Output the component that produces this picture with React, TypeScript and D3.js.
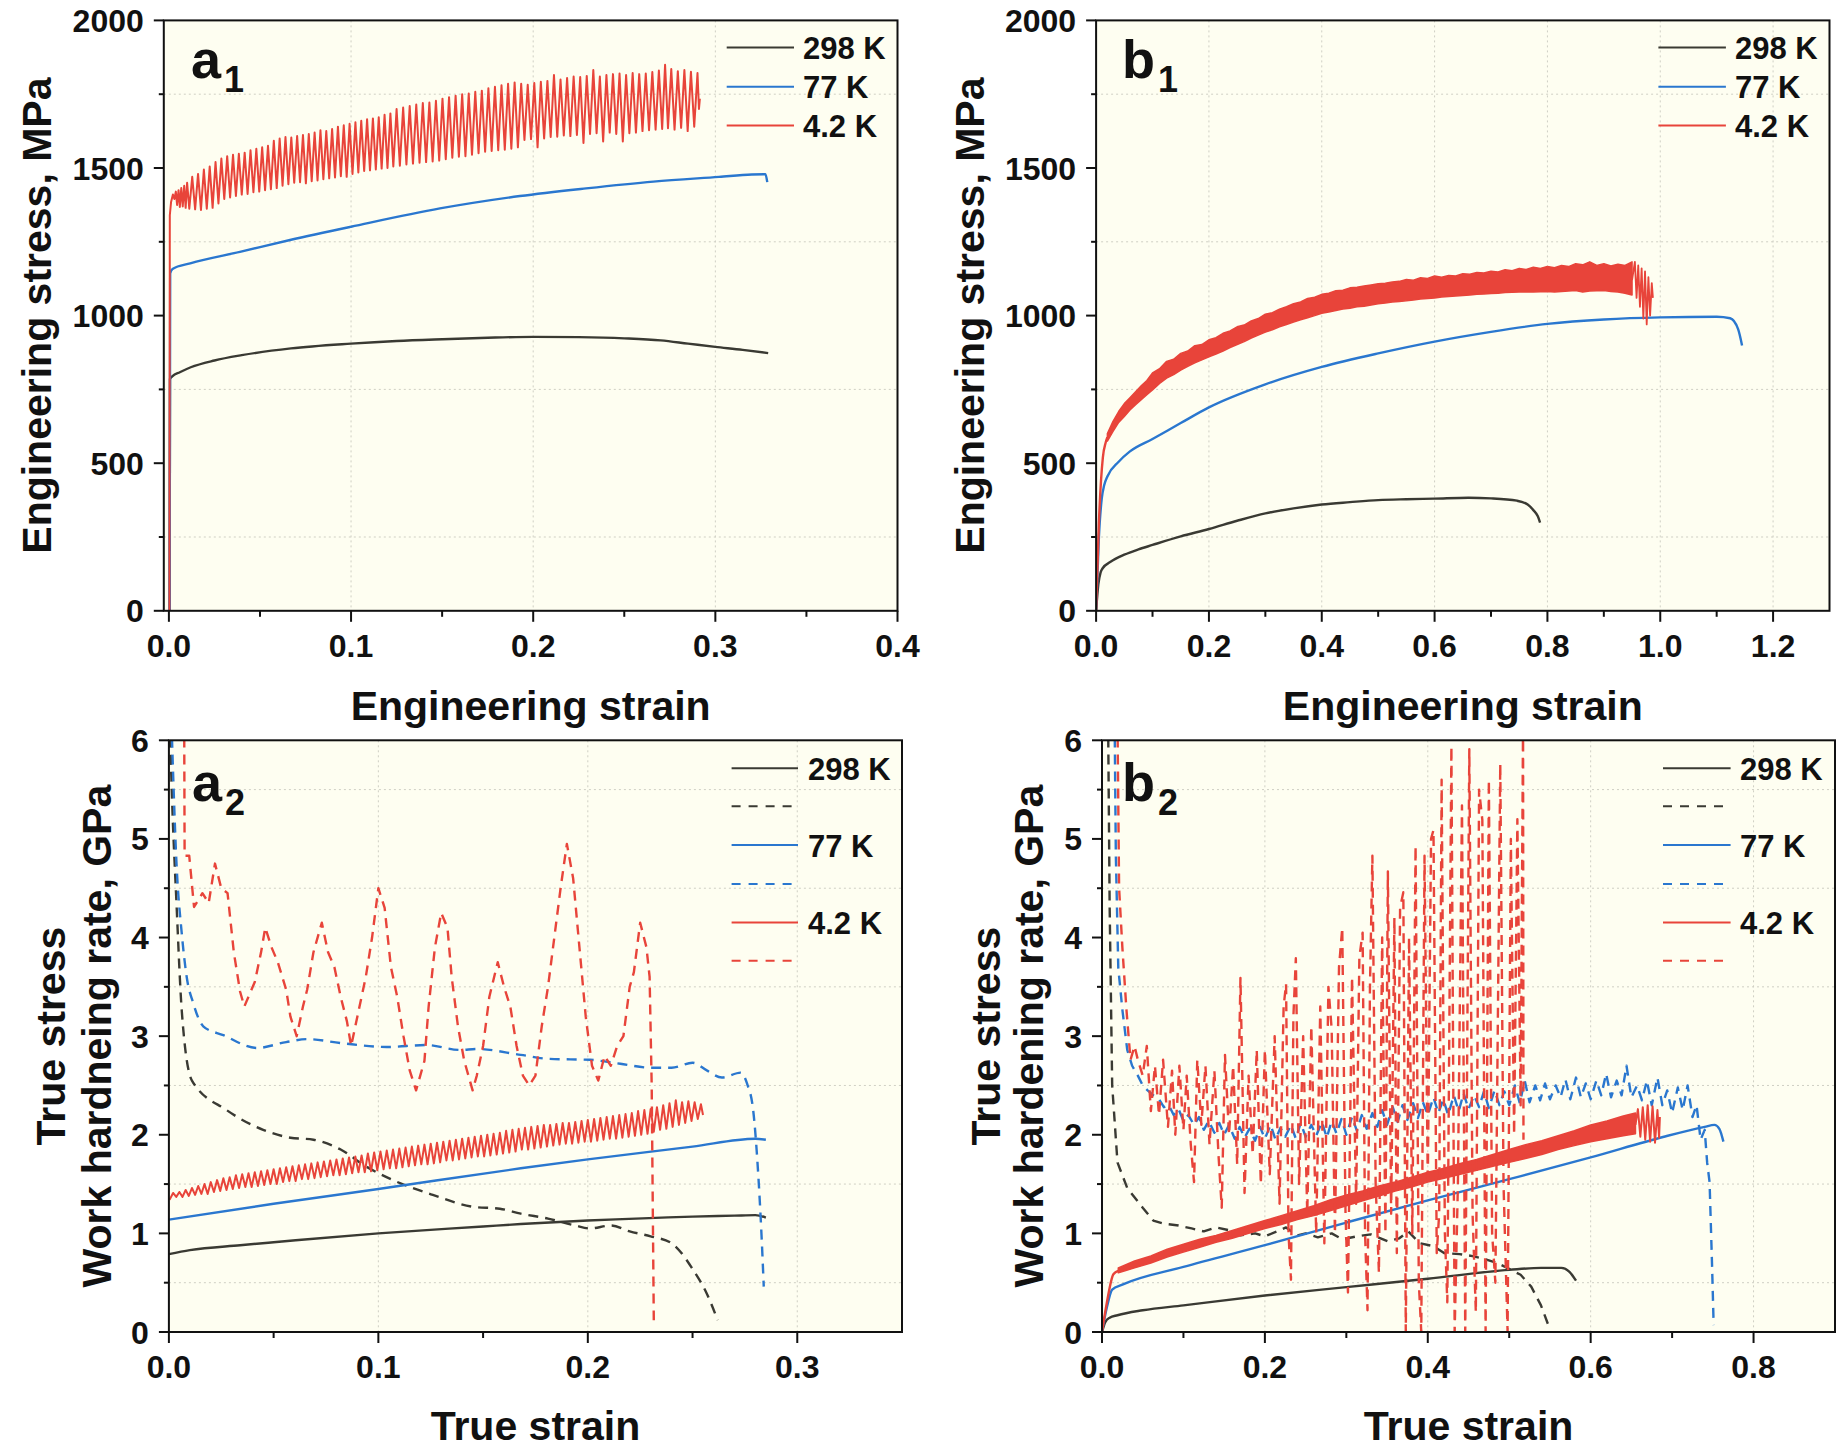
import { useEffect, useRef } from 'react'
import * as d3 from 'd3'

type Pt = [number, number]
type BandPt = [number, number, number]

const W = 1846
const H = 1452
const FONT = '"Liberation Sans", Arial, Helvetica, sans-serif'
const BLACK = '#3a3a33'
const BLUE = '#2a77cf'
const RED = '#e8443a'
const PLOT_BG = '#fefef1'
const GRID = '#cfcfc4'

// ---- tick values ----
const A1_X_TICKS = [0, 0.1, 0.2, 0.3, 0.4]
const A1_X_MINOR = [0.05, 0.15, 0.25, 0.35]
const B1_X_TICKS = [0, 0.2, 0.4, 0.6, 0.8, 1.0, 1.2]
const B1_X_MINOR = [0.1, 0.3, 0.5, 0.7, 0.9, 1.1]
const A2_X_TICKS = [0, 0.1, 0.2, 0.3]
const A2_X_MINOR = [0.05, 0.15, 0.25]
const B2_X_TICKS = [0, 0.2, 0.4, 0.6, 0.8]
const B2_X_MINOR = [0.1, 0.3, 0.5, 0.7]
const STRESS_TICKS = [0, 500, 1000, 1500, 2000]
const STRESS_MINOR = [250, 750, 1250, 1750]
const RATE_TICKS = [0, 1, 2, 3, 4, 5, 6]
const RATE_MINOR = [0.5, 1.5, 2.5, 3.5, 4.5, 5.5]

const TEMPS = ['298 K', '77 K', '4.2 K']

// ---- a1: engineering stress-strain ----
const A1_298: Pt[] = [[0.0004, 0], [0.0006, 785], [0.002, 795], [0.006, 808], [0.012, 825], [0.025, 848], [0.04, 866], [0.067, 889], [0.1, 905], [0.125, 914], [0.15, 920], [0.175, 925], [0.2, 928], [0.225, 927], [0.25, 923], [0.27, 916], [0.285, 905], [0.3, 894], [0.315, 884], [0.329, 873]]
const A1_77: Pt[] = [[0.0004, 0], [0.0007, 1143], [0.002, 1158], [0.0117, 1177], [0.039, 1216], [0.0665, 1256], [0.1, 1301], [0.1488, 1363], [0.1927, 1405], [0.229, 1431], [0.266, 1454], [0.302, 1470], [0.32, 1478], [0.3275, 1479], [0.3285, 1452]]
const A1_4K: Pt[] = [
  [0.0003, 0], [0.0005, 1340], [0.0012, 1385], [0.0022, 1410], [0.003, 1395], [0.0038, 1420], [0.0045, 1375], [0.0053, 1425], [0.006, 1368], [0.0068, 1432], [0.0076, 1370], [0.0084, 1440], [0.0092, 1365], [0.010, 1450], [0.0112, 1362],
  [0.0128, 1470], [0.0144, 1360], [0.016, 1480], [0.0176, 1358], [0.0192, 1495], [0.0208, 1362], [0.0224, 1505], [0.024, 1365], [0.0256, 1520], [0.0272, 1380], [0.0288, 1532], [0.0304, 1395], [0.032, 1540], [0.0336, 1400], [0.0352, 1545], [0.0368, 1405], [0.0384, 1548], [0.04, 1410], [0.0416, 1552], [0.0432, 1412], [0.0448, 1560], [0.0464, 1418], [0.048, 1565], [0.0496, 1420], [0.0512, 1570], [0.0528, 1425], [0.0544, 1575], [0.056, 1428], [0.0576, 1592], [0.0592, 1432], [0.0608, 1600], [0.0624, 1440], [0.064, 1605], [0.0656, 1445], [0.0672, 1603], [0.0688, 1450], [0.0704, 1608], [0.072, 1452], [0.0736, 1612], [0.0752, 1448], [0.0768, 1615], [0.0784, 1455], [0.08, 1620], [0.0816, 1458], [0.0832, 1628], [0.0848, 1462], [0.0864, 1625], [0.088, 1465], [0.0896, 1632], [0.0912, 1468], [0.0928, 1640], [0.0944, 1472], [0.096, 1645], [0.0976, 1470], [0.0992, 1650], [0.1008, 1480], [0.1024, 1655], [0.104, 1485], [0.1056, 1660], [0.1072, 1490], [0.1088, 1665], [0.1104, 1492], [0.112, 1668], [0.1136, 1495], [0.1152, 1672], [0.1168, 1498], [0.1184, 1680], [0.12, 1500], [0.1216, 1685], [0.1232, 1505],
  [0.125, 1700], [0.1268, 1508], [0.1286, 1705], [0.1304, 1512], [0.1322, 1710], [0.134, 1515], [0.1358, 1715], [0.1376, 1518], [0.1394, 1720], [0.1412, 1520], [0.143, 1722], [0.1448, 1522], [0.1466, 1728], [0.1484, 1525], [0.1502, 1735], [0.152, 1530], [0.1538, 1740], [0.1556, 1535], [0.1574, 1745], [0.1592, 1538], [0.161, 1750], [0.1628, 1540], [0.1646, 1752], [0.1664, 1545], [0.1682, 1758], [0.17, 1550], [0.1718, 1762], [0.1736, 1555], [0.1754, 1770], [0.1772, 1558], [0.179, 1775], [0.1808, 1560], [0.1826, 1780], [0.1844, 1562], [0.1862, 1785], [0.188, 1565], [0.1898, 1790], [0.1916, 1570], [0.1934, 1785], [0.1952, 1595], [0.197, 1782], [0.1988, 1598], [0.2006, 1788], [0.2024, 1570], [0.2042, 1792], [0.206, 1600], [0.2078, 1795], [0.2096, 1605], [0.2114, 1815], [0.2132, 1606], [0.215, 1800], [0.2168, 1610], [0.2186, 1805], [0.2204, 1608], [0.2222, 1810], [0.224, 1612], [0.2258, 1808], [0.2276, 1585], [0.2294, 1812], [0.2312, 1615], [0.233, 1832], [0.2348, 1618], [0.2366, 1810], [0.2384, 1590], [0.2402, 1815], [0.242, 1620], [0.2438, 1818], [0.2456, 1615], [0.2474, 1820], [0.2492, 1590], [0.251, 1815], [0.2528, 1618], [0.2546, 1822], [0.2564, 1620], [0.2582, 1818], [0.26, 1625], [0.2618, 1820], [0.2636, 1628], [0.2654, 1825], [0.2672, 1630], [0.269, 1830], [0.2708, 1632], [0.2724, 1850], [0.274, 1635], [0.2758, 1835], [0.2776, 1630], [0.2794, 1828], [0.2812, 1636], [0.283, 1832], [0.2848, 1625], [0.2866, 1826], [0.2884, 1640], [0.2902, 1822], [0.291, 1700], [0.2915, 1735],
]

// ---- b1: engineering stress-strain ----
const B1_298: Pt[] = [[0, 0], [0.004, 90], [0.008, 130], [0.012, 145], [0.025, 165], [0.05, 190], [0.075, 208], [0.1, 223], [0.15, 252], [0.2, 277], [0.25, 305], [0.3, 330], [0.35, 347], [0.4, 360], [0.45, 368], [0.5, 375], [0.55, 378], [0.6, 380], [0.66, 383], [0.7, 381], [0.746, 373], [0.765, 360], [0.775, 341], [0.783, 320], [0.787, 299]]
const B1_77: Pt[] = [[0, 0], [0.005, 250], [0.01, 380], [0.0143, 425], [0.02, 455], [0.04, 505], [0.06, 540], [0.1, 582], [0.15, 636], [0.2, 689], [0.3, 767], [0.4, 826], [0.5, 872], [0.6, 912], [0.7, 945], [0.8, 972], [0.9, 987], [1.0, 994], [1.1, 996], [1.124, 991], [1.138, 954], [1.145, 899]]
const B1_4K_RISE: Pt[] = [[0, 0], [0.005, 300], [0.012, 520], [0.017, 570], [0.02, 588]]
const B1_4K_BAND: BandPt[] = [
  [0.02, 575, 600], [0.03, 608, 642], [0.04, 638, 675], [0.05, 658, 702], [0.06, 680, 722], [0.07, 698, 742], [0.08, 715, 762], [0.09, 732, 780], [0.1, 748, 806], [0.1125, 770, 820], [0.125, 788, 845], [0.1375, 800, 852], [0.15, 815, 872], [0.1625, 828, 880], [0.175, 840, 898], [0.1875, 850, 902], [0.2, 860, 918], [0.2125, 870, 925], [0.225, 880, 940], [0.2375, 892, 948], [0.25, 902, 962], [0.2625, 912, 968], [0.275, 924, 982], [0.2875, 934, 990], [0.3, 944, 1005], [0.3125, 952, 1010], [0.325, 962, 1022], [0.3375, 970, 1030], [0.35, 978, 1040], [0.3625, 986, 1046], [0.375, 993, 1058], [0.3875, 1000, 1062], [0.4, 1008, 1072], [0.4125, 1012, 1076], [0.425, 1017, 1084], [0.4375, 1022, 1086], [0.45, 1025, 1094], [0.4625, 1030, 1096], [0.475, 1032, 1100], [0.4875, 1036, 1104], [0.5, 1040, 1108], [0.5125, 1043, 1110], [0.525, 1046, 1114], [0.5375, 1048, 1116], [0.55, 1050, 1122], [0.5625, 1053, 1120], [0.575, 1056, 1128], [0.5875, 1058, 1126], [0.6, 1060, 1134], [0.6125, 1063, 1130], [0.625, 1065, 1136], [0.6375, 1066, 1134], [0.65, 1068, 1142], [0.6625, 1070, 1140], [0.675, 1072, 1146], [0.6875, 1073, 1144], [0.7, 1075, 1150], [0.7125, 1076, 1148], [0.725, 1078, 1155], [0.7375, 1079, 1152], [0.75, 1080, 1160], [0.7625, 1080, 1156], [0.775, 1080, 1164], [0.7875, 1081, 1160], [0.8, 1082, 1166], [0.8125, 1080, 1162], [0.825, 1082, 1170], [0.8375, 1083, 1166], [0.85, 1085, 1176], [0.8625, 1080, 1172], [0.875, 1083, 1182], [0.8875, 1084, 1170], [0.9, 1085, 1176], [0.9125, 1082, 1168], [0.925, 1080, 1174], [0.9375, 1076, 1170], [0.95, 1070, 1182],
]
const B1_4K_TAIL: Pt[] = [[0.95, 1120], [0.955, 1182], [0.958, 1060], [0.961, 1170], [0.964, 1030], [0.967, 1160], [0.97, 990], [0.973, 1150], [0.976, 970], [0.979, 1130], [0.982, 1000], [0.985, 1110], [0.987, 1060]]

// ---- a2: true stress and work hardening rate (GPa) ----
const A2_298_STRESS: Pt[] = [[0, 0.79], [0.01, 0.83], [0.034, 0.88], [0.05, 0.91], [0.1, 1.0], [0.15, 1.07], [0.168, 1.095], [0.2, 1.13], [0.25, 1.17], [0.27, 1.18], [0.28, 1.185], [0.285, 1.16]]
const A2_298_RATE: Pt[] = [[0.0004, 6.2], [0.0012, 5.6], [0.0037, 4.31], [0.0061, 3.27], [0.011, 2.55], [0.0276, 2.25], [0.045, 2.05], [0.058, 1.97], [0.069, 1.95], [0.082, 1.85], [0.094, 1.68], [0.107, 1.54], [0.126, 1.39], [0.145, 1.27], [0.158, 1.25], [0.168, 1.2], [0.181, 1.15], [0.194, 1.08], [0.201, 1.05], [0.211, 1.08], [0.22, 1.02], [0.23, 0.97], [0.24, 0.9], [0.25, 0.64], [0.257, 0.38], [0.262, 0.12]]
const A2_77_STRESS: Pt[] = [[0, 1.14], [0.05, 1.3], [0.1, 1.45], [0.168, 1.66], [0.2, 1.75], [0.25, 1.88], [0.28, 1.96], [0.285, 1.95]]
const A2_77_RATE: Pt[] = [[0.0012, 6.2], [0.0037, 4.72], [0.0061, 4.05], [0.0085, 3.6], [0.0117, 3.33], [0.0164, 3.1], [0.026, 3.01], [0.042, 2.88], [0.056, 2.94], [0.066, 2.97], [0.082, 2.93], [0.104, 2.89], [0.123, 2.91], [0.139, 2.86], [0.147, 2.87], [0.168, 2.81], [0.181, 2.77], [0.201, 2.76], [0.2155, 2.72], [0.23, 2.68], [0.24, 2.68], [0.25, 2.73], [0.257, 2.65], [0.264, 2.58], [0.273, 2.63], [0.276, 2.52], [0.279, 2.24], [0.281, 1.72], [0.283, 0.95], [0.284, 0.46]]
const A2_4K_STRESS: Pt[] = [
  [0.0003, 1.34], [0.002, 1.41], [0.0035, 1.37], [0.005, 1.42], [0.0065, 1.37], [0.008, 1.44], [0.0095, 1.38], [0.011, 1.46], [0.0125, 1.39], [0.014, 1.48], [0.0155, 1.40], [0.017, 1.50], [0.0185, 1.40], [0.020, 1.52], [0.0215, 1.42], [0.023, 1.54], [0.0245, 1.43], [0.026, 1.56], [0.0275, 1.44], [0.029, 1.57], [0.0305, 1.45], [0.032, 1.59], [0.0335, 1.46], [0.035, 1.60], [0.0365, 1.47], [0.038, 1.61], [0.0395, 1.47], [0.041, 1.62], [0.0425, 1.48], [0.044, 1.63], [0.0455, 1.49], [0.047, 1.64], [0.0485, 1.50], [0.050, 1.65], [0.0515, 1.50], [0.053, 1.66], [0.0545, 1.52], [0.056, 1.67], [0.0575, 1.53], [0.059, 1.68], [0.0605, 1.53], [0.062, 1.69], [0.0635, 1.55], [0.065, 1.70], [0.0665, 1.55], [0.068, 1.71], [0.0695, 1.56], [0.071, 1.72], [0.0725, 1.57], [0.074, 1.73], [0.0755, 1.58], [0.077, 1.74], [0.0785, 1.59], [0.080, 1.75], [0.0815, 1.59], [0.083, 1.76], [0.0845, 1.60], [0.086, 1.77], [0.0875, 1.61], [0.089, 1.78], [0.0905, 1.62], [0.092, 1.79], [0.0935, 1.62], [0.095, 1.81], [0.0965, 1.63], [0.098, 1.82], [0.0995, 1.64], [0.101, 1.83], [0.1025, 1.65], [0.104, 1.84], [0.1055, 1.66], [0.107, 1.85], [0.1085, 1.66], [0.110, 1.86], [0.1115, 1.67], [0.113, 1.87], [0.1145, 1.68], [0.116, 1.88], [0.1175, 1.69], [0.119, 1.89], [0.1205, 1.70], [0.122, 1.90], [0.1235, 1.70], [0.125, 1.91], [0.1265, 1.71], [0.128, 1.92], [0.1295, 1.72], [0.131, 1.93], [0.1325, 1.74], [0.134, 1.94], [0.1355, 1.74], [0.137, 1.95], [0.1385, 1.75], [0.140, 1.96], [0.1415, 1.76], [0.143, 1.97], [0.1445, 1.77], [0.146, 1.98], [0.1475, 1.78], [0.149, 1.99], [0.1505, 1.78], [0.152, 2.00], [0.1535, 1.79], [0.155, 2.01], [0.1565, 1.80], [0.158, 2.02], [0.1595, 1.81], [0.161, 2.04], [0.1625, 1.82], [0.164, 2.05], [0.1655, 1.83], [0.167, 2.06], [0.1685, 1.85], [0.170, 2.07], [0.1715, 1.85], [0.173, 2.08], [0.1745, 1.86], [0.176, 2.09], [0.1775, 1.87], [0.179, 2.10], [0.1805, 1.88], [0.182, 2.10], [0.1835, 1.89], [0.185, 2.11], [0.1865, 1.90], [0.188, 2.12], [0.1895, 1.91], [0.191, 2.12], [0.1925, 1.91], [0.194, 2.13], [0.1955, 1.92], [0.197, 2.14], [0.1985, 1.93], [0.200, 2.15], [0.2015, 1.93], [0.203, 2.16], [0.2045, 1.94], [0.206, 2.17], [0.2075, 1.95], [0.209, 2.18], [0.2105, 1.96], [0.212, 2.19], [0.2135, 1.96], [0.215, 2.20], [0.2165, 1.97], [0.218, 2.21], [0.2195, 1.98], [0.221, 2.22], [0.2225, 1.99], [0.224, 2.24], [0.2255, 2.00], [0.227, 2.25], [0.2285, 2.01], [0.230, 2.26], [0.2315, 2.03], [0.233, 2.28], [0.2345, 2.05], [0.236, 2.30], [0.2375, 2.06], [0.239, 2.32], [0.2405, 2.08], [0.242, 2.35], [0.2435, 2.10], [0.245, 2.33], [0.2465, 2.12], [0.248, 2.34], [0.2495, 2.14], [0.251, 2.33], [0.2525, 2.16], [0.254, 2.31], [0.255, 2.20],
]
const A2_4K_RATE: Pt[] = [[0.0073, 6.2], [0.0075, 4.83], [0.0097, 4.83], [0.012, 4.31], [0.016, 4.45], [0.019, 4.35], [0.022, 4.75], [0.025, 4.5], [0.028, 4.45], [0.031, 3.85], [0.034, 3.45], [0.036, 3.3], [0.038, 3.4], [0.041, 3.55], [0.044, 3.85], [0.046, 4.1], [0.049, 3.9], [0.052, 3.75], [0.056, 3.47], [0.058, 3.2], [0.061, 3.0], [0.064, 3.3], [0.066, 3.47], [0.069, 3.85], [0.073, 4.15], [0.076, 3.85], [0.079, 3.7], [0.082, 3.4], [0.085, 3.15], [0.087, 2.9], [0.089, 3.1], [0.091, 3.3], [0.094, 3.6], [0.097, 4.0], [0.1, 4.5], [0.103, 4.3], [0.106, 3.7], [0.109, 3.4], [0.112, 3.0], [0.115, 2.65], [0.118, 2.45], [0.12, 2.6], [0.122, 2.75], [0.124, 3.3], [0.127, 3.9], [0.13, 4.25], [0.133, 4.1], [0.135, 3.6], [0.138, 3.1], [0.141, 2.75], [0.145, 2.45], [0.147, 2.6], [0.15, 2.9], [0.153, 3.4], [0.157, 3.75], [0.16, 3.5], [0.163, 3.3], [0.166, 2.9], [0.169, 2.6], [0.172, 2.5], [0.175, 2.6], [0.178, 3.1], [0.181, 3.5], [0.184, 4.0], [0.187, 4.5], [0.19, 4.95], [0.193, 4.6], [0.196, 3.9], [0.199, 3.2], [0.202, 2.7], [0.205, 2.55], [0.208, 2.8], [0.211, 2.7], [0.214, 2.9], [0.217, 3.0], [0.22, 3.5], [0.222, 3.65], [0.225, 4.15], [0.228, 3.9], [0.2295, 3.6], [0.2305, 2.5], [0.2315, 0.12]]

// ---- b2: true stress and work hardening rate (GPa) ----
const B2_298_STRESS: Pt[] = [[0, 0], [0.004, 0.1], [0.0094, 0.145], [0.019, 0.17], [0.05, 0.22], [0.1, 0.27], [0.2, 0.37], [0.3, 0.455], [0.4, 0.54], [0.5, 0.63], [0.539, 0.65], [0.564, 0.65], [0.574, 0.61], [0.582, 0.52]]
const B2_298_RATE: Pt[] = [[0.0075, 6.2], [0.0094, 4.31], [0.0125, 2.5], [0.019, 1.72], [0.031, 1.46], [0.05, 1.26], [0.063, 1.13], [0.075, 1.1], [0.094, 1.08], [0.11, 1.05], [0.125, 1.02], [0.14, 1.06], [0.157, 1.03], [0.17, 0.98], [0.188, 1.0], [0.2, 0.97], [0.215, 1.02], [0.226, 1.06], [0.24, 0.98], [0.25, 1.0], [0.265, 0.96], [0.282, 1.0], [0.295, 0.94], [0.313, 0.97], [0.33, 0.99], [0.351, 0.92], [0.365, 0.95], [0.376, 1.02], [0.39, 0.9], [0.407, 0.87], [0.42, 0.8], [0.439, 0.79], [0.455, 0.77], [0.47, 0.74], [0.485, 0.7], [0.495, 0.66], [0.514, 0.58], [0.527, 0.46], [0.539, 0.27], [0.548, 0.07]]
const B2_77_STRESS: Pt[] = [[0, 0], [0.006, 0.25], [0.0125, 0.43], [0.025, 0.48], [0.1, 0.66], [0.2, 0.88], [0.3, 1.11], [0.4, 1.335], [0.5, 1.55], [0.6, 1.77], [0.69, 1.98], [0.74, 2.08], [0.752, 2.1], [0.758, 2.06], [0.763, 1.93]]
const B2_77_RATE: Pt[] = [[0.0155, 6.2], [0.017, 4.83], [0.02, 3.69], [0.025, 3.27], [0.031, 2.86], [0.037, 2.7], [0.044, 2.6], [0.05, 2.5], [0.056, 2.45], [0.063, 2.4], [0.07, 2.36], [0.076, 2.28], [0.082, 2.3], [0.088, 2.2], [0.094, 2.26], [0.1, 2.14], [0.106, 2.2], [0.113, 2.1], [0.119, 2.18], [0.125, 2.05], [0.131, 2.14], [0.138, 2.02], [0.144, 2.12], [0.15, 2.0], [0.156, 2.1], [0.163, 1.96], [0.169, 2.08], [0.175, 1.97], [0.181, 2.06], [0.188, 1.94], [0.194, 2.08], [0.2, 1.96], [0.207, 2.1], [0.213, 1.95], [0.219, 2.07], [0.225, 1.98], [0.232, 2.1], [0.238, 1.96], [0.244, 2.12], [0.25, 1.98], [0.257, 2.1], [0.263, 1.99], [0.27, 2.13], [0.276, 1.97], [0.282, 2.14], [0.288, 2.01], [0.294, 2.16], [0.3, 2.0], [0.307, 2.18], [0.313, 2.04], [0.319, 2.2], [0.325, 2.06], [0.332, 2.22], [0.338, 2.08], [0.344, 2.25], [0.35, 2.1], [0.357, 2.28], [0.363, 2.13], [0.369, 2.3], [0.375, 2.15], [0.382, 2.32], [0.388, 2.17], [0.394, 2.33], [0.4, 2.2], [0.407, 2.38], [0.413, 2.22], [0.419, 2.36], [0.425, 2.2], [0.432, 2.4], [0.438, 2.24], [0.444, 2.42], [0.45, 2.26], [0.457, 2.4], [0.463, 2.28], [0.469, 2.44], [0.475, 2.27], [0.482, 2.45], [0.488, 2.3], [0.494, 2.44], [0.5, 2.3], [0.507, 2.5], [0.513, 2.32], [0.519, 2.55], [0.525, 2.33], [0.532, 2.5], [0.538, 2.35], [0.544, 2.52], [0.55, 2.36], [0.557, 2.5], [0.563, 2.38], [0.569, 2.56], [0.575, 2.36], [0.582, 2.58], [0.588, 2.38], [0.594, 2.52], [0.6, 2.36], [0.607, 2.55], [0.613, 2.4], [0.619, 2.62], [0.625, 2.38], [0.632, 2.55], [0.638, 2.4], [0.644, 2.7], [0.65, 2.38], [0.657, 2.5], [0.663, 2.35], [0.669, 2.55], [0.675, 2.3], [0.682, 2.58], [0.688, 2.3], [0.694, 2.45], [0.7, 2.22], [0.707, 2.48], [0.713, 2.25], [0.719, 2.5], [0.725, 2.18], [0.73, 2.3], [0.735, 1.95], [0.74, 2.05], [0.743, 1.72], [0.746, 1.52], [0.749, 0.69], [0.751, 0.07]]
const B2_4K_RISE: Pt[] = [[0, 0], [0.006, 0.3], [0.014, 0.585], [0.02, 0.62]]
const B2_4K_BAND: BandPt[] = [
  [0.02, 0.60, 0.65], [0.04, 0.65, 0.72], [0.06, 0.70, 0.77], [0.08, 0.76, 0.84], [0.10, 0.81, 0.89], [0.12, 0.86, 0.94], [0.14, 0.91, 0.98], [0.16, 0.95, 1.03], [0.18, 1.00, 1.08], [0.20, 1.05, 1.13], [0.22, 1.09, 1.18], [0.24, 1.14, 1.23], [0.26, 1.18, 1.28], [0.28, 1.23, 1.34], [0.30, 1.28, 1.39], [0.32, 1.33, 1.43], [0.34, 1.38, 1.48], [0.36, 1.43, 1.52], [0.38, 1.47, 1.57], [0.40, 1.52, 1.62], [0.42, 1.56, 1.66], [0.44, 1.60, 1.71], [0.46, 1.64, 1.75], [0.48, 1.68, 1.80], [0.50, 1.72, 1.85], [0.52, 1.76, 1.90], [0.54, 1.80, 1.94], [0.56, 1.85, 1.99], [0.58, 1.89, 2.04], [0.60, 1.93, 2.10], [0.62, 1.96, 2.14], [0.64, 1.99, 2.19], [0.655, 2.01, 2.22],
]
const B2_4K_TAIL: Pt[] = [[0.655, 2.1], [0.658, 2.26], [0.661, 1.98], [0.664, 2.28], [0.667, 1.95], [0.67, 2.3], [0.673, 1.93], [0.676, 2.29], [0.679, 1.92], [0.682, 2.25], [0.684, 1.97], [0.685, 2.18]]
const B2_4K_RATE: Pt[] = [[0.019, 6.2], [0.021, 4.5], [0.025, 3.9], [0.03, 3.27], [0.035, 2.76], [0.04, 2.9], [0.044, 2.76], [0.05, 2.6], [0.055, 2.9], [0.06, 2.24], [0.065, 2.7], [0.07, 2.2], [0.075, 2.76], [0.081, 2.08], [0.086, 2.65], [0.09, 2.0], [0.095, 2.7], [0.1, 2.05], [0.104, 2.6], [0.109, 1.9], [0.113, 1.52], [0.117, 2.76], [0.122, 2.1], [0.127, 2.7], [0.132, 1.9], [0.138, 2.65], [0.143, 1.8], [0.147, 1.26], [0.151, 2.81], [0.156, 2.0], [0.161, 2.7], [0.166, 1.7], [0.17, 3.59], [0.175, 1.41], [0.18, 2.6], [0.185, 1.8], [0.19, 2.86], [0.195, 1.5], [0.2, 2.86], [0.206, 1.6], [0.212, 3.0], [0.218, 1.3], [0.223, 3.3], [0.226, 3.53], [0.229, 1.0], [0.232, 0.53], [0.235, 3.2], [0.238, 3.79], [0.242, 1.5], [0.247, 3.0], [0.252, 1.2], [0.257, 3.1], [0.263, 1.0], [0.268, 3.3], [0.273, 0.9], [0.278, 3.5], [0.282, 3.07], [0.286, 1.0], [0.291, 3.7], [0.295, 4.1], [0.299, 1.2], [0.302, 0.4], [0.307, 3.6], [0.312, 1.3], [0.316, 3.8], [0.32, 4.05], [0.323, 1.0], [0.326, 0.22], [0.329, 3.5], [0.332, 4.83], [0.336, 1.5], [0.34, 0.6], [0.344, 4.0], [0.348, 1.0], [0.351, 4.67], [0.355, 1.2], [0.359, 4.2], [0.362, 0.8], [0.366, 4.3], [0.37, 4.46], [0.373, 0], [0.377, 4.0], [0.381, 1.0], [0.385, 4.93], [0.389, 0.5], [0.392, 0], [0.396, 4.83], [0.4, 1.5], [0.404, 5.0], [0.407, 5.09], [0.411, 0.8], [0.414, 1.2], [0.417, 5.6], [0.421, 1.0], [0.424, 0.3], [0.429, 5.94], [0.433, 0], [0.437, 1.5], [0.442, 5.34], [0.446, 0], [0.451, 5.91], [0.455, 1.2], [0.459, 0.2], [0.463, 5.5], [0.467, 5.19], [0.471, 0], [0.475, 5.6], [0.479, 1.0], [0.483, 0.5], [0.489, 5.76], [0.493, 1.5], [0.498, 0], [0.502, 5.0], [0.506, 2.0], [0.51, 5.2], [0.514, 2.3], [0.517, 6.2], [0.5175, 1.95]]

// ---- drawing config ----
interface Mark { kind: 'line' | 'band'; data: Pt[] | BandPt[]; color: string; dashed?: boolean; width?: number; smooth?: boolean }
interface LegendRow { y: number; color: string; dashed?: boolean; text?: string }
interface Panel {
  id: string
  box: [number, number, number, number]
  xDomain: [number, number]
  yDomain: [number, number]
  xTicks: number[]; xMinor: number[]; xGrid: number[]
  yTicks: number[]; yMinor: number[]
  xFmt: (v: number) => string
  xTitle: string; xTitleY: number
  yTitles: [string, number][]
  label: [string, string, number, number]
  legend: { x0: number; x1: number; tx: number; rows: LegendRow[] }
  marks: Mark[]
}

const fmt1 = d3.format('.1f')
const fmtInt = d3.format('d')
const STRESS_LEG_Y = [47.6, 86.8, 125.5]
const RATE_LEG_Y = [768.3, 806.3, 845, 884, 922.4, 960.7]

const topLegend = (x0: number, x1: number, tx: number) => ({
  x0, x1, tx,
  rows: [BLACK, BLUE, RED].map((c, i) => ({ y: STRESS_LEG_Y[i], color: c, text: TEMPS[i] })),
})
const bottomLegend = (x0: number, x1: number, tx: number) => ({
  x0, x1, tx,
  rows: [BLACK, BLUE, RED].flatMap((c, i) => [
    { y: RATE_LEG_Y[i * 2], color: c, text: TEMPS[i] },
    { y: RATE_LEG_Y[i * 2 + 1], color: c, dashed: true },
  ]),
})

const PANELS: Panel[] = [
  {
    id: 'a1', box: [163.8, 20.4, 897.5, 610.8], xDomain: [-0.0028, 0.4], yDomain: [0, 2000],
    xTicks: A1_X_TICKS, xMinor: A1_X_MINOR, xGrid: [0.1, 0.2, 0.3], yTicks: STRESS_TICKS, yMinor: STRESS_MINOR,
    xFmt: fmt1, xTitle: 'Engineering strain', xTitleY: 720,
    yTitles: [['Engineering stress, MPa', 51]], label: ['a', '1', 191, 77.5],
    legend: topLegend(726.7, 794, 803),
    marks: [
      { kind: 'line', data: A1_298, color: BLACK, smooth: true },
      { kind: 'line', data: A1_77, color: BLUE, smooth: true },
      { kind: 'line', data: A1_4K, color: RED, width: 2 },
    ],
  },
  {
    id: 'b1', box: [1096.1, 20.4, 1829.5, 610.8], xDomain: [0, 1.3], yDomain: [0, 2000],
    xTicks: B1_X_TICKS, xMinor: B1_X_MINOR, xGrid: [0.2, 0.4, 0.6, 0.8, 1.0, 1.2], yTicks: STRESS_TICKS, yMinor: STRESS_MINOR,
    xFmt: fmt1, xTitle: 'Engineering strain', xTitleY: 720,
    yTitles: [['Engineering stress, MPa', 984]], label: ['b', '1', 1122, 78],
    legend: topLegend(1658.4, 1725.9, 1735),
    marks: [
      { kind: 'line', data: B1_298, color: BLACK, smooth: true },
      { kind: 'line', data: B1_77, color: BLUE, smooth: true },
      { kind: 'line', data: B1_4K_RISE, color: RED, smooth: true },
      { kind: 'band', data: B1_4K_BAND, color: RED },
      { kind: 'line', data: B1_4K_TAIL, color: RED, width: 1.8 },
    ],
  },
  {
    id: 'a2', box: [168.9, 740.3, 902, 1332], xDomain: [0, 0.35], yDomain: [0, 6],
    xTicks: A2_X_TICKS, xMinor: A2_X_MINOR, xGrid: [0.1, 0.2, 0.3], yTicks: RATE_TICKS, yMinor: RATE_MINOR,
    xFmt: fmt1, xTitle: 'True strain', xTitleY: 1440,
    yTitles: [['True stress', 65], ['Work hardneing rate, GPa', 111]], label: ['a', '2', 192, 801],
    legend: bottomLegend(731.6, 798, 808),
    marks: [
      { kind: 'line', data: A2_298_STRESS, color: BLACK, smooth: true },
      { kind: 'line', data: A2_298_RATE, color: BLACK, dashed: true, smooth: true },
      { kind: 'line', data: A2_77_STRESS, color: BLUE, smooth: true },
      { kind: 'line', data: A2_77_RATE, color: BLUE, dashed: true, smooth: true },
      { kind: 'line', data: A2_4K_STRESS, color: RED, width: 2 },
      { kind: 'line', data: A2_4K_RATE, color: RED, dashed: true },
    ],
  },
  {
    id: 'b2', box: [1102, 740.3, 1835, 1332], xDomain: [0, 0.9], yDomain: [0, 6],
    xTicks: B2_X_TICKS, xMinor: B2_X_MINOR, xGrid: [0.2, 0.4, 0.6, 0.8], yTicks: RATE_TICKS, yMinor: RATE_MINOR,
    xFmt: fmt1, xTitle: 'True strain', xTitleY: 1440,
    yTitles: [['True stress', 1000], ['Work hardening rate, GPa', 1043]], label: ['b', '2', 1122, 801],
    legend: bottomLegend(1663, 1730.6, 1740),
    marks: [
      { kind: 'line', data: B2_298_STRESS, color: BLACK, smooth: true },
      { kind: 'line', data: B2_298_RATE, color: BLACK, dashed: true },
      { kind: 'line', data: B2_77_STRESS, color: BLUE, smooth: true },
      { kind: 'line', data: B2_77_RATE, color: BLUE, dashed: true },
      { kind: 'line', data: B2_4K_RISE, color: RED, smooth: true },
      { kind: 'band', data: B2_4K_BAND, color: RED },
      { kind: 'line', data: B2_4K_TAIL, color: RED, width: 2 },
      { kind: 'line', data: B2_4K_RATE, color: RED, dashed: true },
    ],
  },
]

function drawPanel(root: d3.Selection<SVGSVGElement, unknown, null, undefined>, p: Panel) {
  const [x0, y0, x1, y1] = p.box
  const x = d3.scaleLinear().domain(p.xDomain).range([x0, x1])
  const y = d3.scaleLinear().domain(p.yDomain).range([y1, y0])
  const g = root.append('g')

  g.append('clipPath').attr('id', `clip-${p.id}`)
    .append('rect').attr('x', x0).attr('y', y0).attr('width', x1 - x0).attr('height', y1 - y0)

  g.append('rect').attr('x', x0).attr('y', y0).attr('width', x1 - x0).attr('height', y1 - y0).attr('fill', PLOT_BG)

  // dotted grid: majors on x, minors on y
  const grid = g.append('g').attr('stroke', GRID).attr('stroke-width', 1).attr('stroke-dasharray', '2,3')
  p.xGrid.forEach((v) => grid.append('line').attr('x1', x(v)).attr('x2', x(v)).attr('y1', y0).attr('y2', y1))
  p.yMinor.forEach((v) => grid.append('line').attr('x1', x0).attr('x2', x1).attr('y1', y(v)).attr('y2', y(v)))

  const plot = g.append('g').attr('clip-path', `url(#clip-${p.id})`)
  const line = d3.line<Pt>().x((d) => x(d[0])).y((d) => y(d[1]))
  const smoothLine = d3.line<Pt>().x((d) => x(d[0])).y((d) => y(d[1])).curve(d3.curveMonotoneX)
  const area = d3.area<BandPt>().x((d) => x(d[0])).y0((d) => y(d[1])).y1((d) => y(d[2]))
  p.marks.forEach((m) => {
    if (m.kind === 'band') {
      plot.append('path').attr('d', area(m.data as BandPt[]) ?? '')
        .attr('fill', m.color).attr('stroke', m.color).attr('stroke-width', 1.5).attr('stroke-linejoin', 'round')
    } else {
      const gen = m.smooth ? smoothLine : line
      plot.append('path').attr('d', gen(m.data as Pt[]) ?? '')
        .attr('fill', 'none').attr('stroke', m.color).attr('stroke-width', m.width ?? 2.4)
        .attr('stroke-linejoin', 'round')
        .attr('stroke-dasharray', m.dashed ? '10,7' : null)
    }
  })

  // frame and ticks
  g.append('rect').attr('x', x0).attr('y', y0).attr('width', x1 - x0).attr('height', y1 - y0)
    .attr('fill', 'none').attr('stroke', '#111').attr('stroke-width', 2)
  const ticks = g.append('g').attr('stroke', '#111').attr('stroke-width', 2)
  p.xTicks.forEach((v) => ticks.append('line').attr('x1', x(v)).attr('x2', x(v)).attr('y1', y1).attr('y2', y1 + 11))
  p.xMinor.forEach((v) => ticks.append('line').attr('x1', x(v)).attr('x2', x(v)).attr('y1', y1).attr('y2', y1 + 6))
  p.yTicks.forEach((v) => ticks.append('line').attr('x1', x0 - 10).attr('x2', x0).attr('y1', y(v)).attr('y2', y(v)))
  p.yMinor.forEach((v) => ticks.append('line').attr('x1', x0 - 5).attr('x2', x0).attr('y1', y(v)).attr('y2', y(v)))

  const txt = g.append('g').attr('font-family', FONT).attr('font-weight', 700).attr('fill', '#111')
  p.xTicks.forEach((v) => txt.append('text').attr('x', x(v)).attr('y', y1 + 46)
    .attr('text-anchor', 'middle').attr('font-size', 32).text(p.xFmt(v)))
  p.yTicks.forEach((v) => txt.append('text').attr('x', x0 - 20).attr('y', y(v) + 11.5)
    .attr('text-anchor', 'end').attr('font-size', 32).text(fmtInt(v)))

  txt.append('text').attr('x', (x0 + x1) / 2).attr('y', p.xTitleY)
    .attr('text-anchor', 'middle').attr('font-size', 41).text(p.xTitle)
  p.yTitles.forEach(([t, bx]) => txt.append('text')
    .attr('transform', `translate(${bx},${(y0 + y1) / 2}) rotate(-90)`)
    .attr('text-anchor', 'middle').attr('font-size', 41).text(t))

  const [main, sub, lx, ly] = p.label
  const lab = txt.append('text').attr('x', lx).attr('y', ly).attr('font-size', 54)
  lab.append('tspan').text(main)
  lab.append('tspan').attr('font-size', 36).attr('dx', 3).attr('dy', 14).text(sub)

  const leg = g.append('g')
  p.legend.rows.forEach((r) => {
    leg.append('line').attr('x1', p.legend.x0).attr('x2', p.legend.x1).attr('y1', r.y).attr('y2', r.y)
      .attr('stroke', r.color).attr('stroke-width', 2)
      .attr('stroke-dasharray', r.dashed ? '9,8' : null)
    if (r.text) {
      leg.append('text').attr('x', p.legend.tx).attr('y', r.y + 11.5)
        .attr('font-family', FONT).attr('font-weight', 700).attr('font-size', 31).attr('fill', '#111')
        .text(r.text)
    }
  })
}

export default function App() {
  const svgRef = useRef<SVGSVGElement>(null)

  useEffect(() => {
    if (!svgRef.current) return
    const svg = d3.select(svgRef.current)
    svg.selectAll('*').remove()
    svg.append('rect').attr('width', W).attr('height', H).attr('fill', '#ffffff')
    PANELS.forEach((p) => drawPanel(svg, p))
    return () => { svg.selectAll('*').remove() }
  }, [])

  return (
    <svg ref={svgRef} width={W} height={H} viewBox={`0 0 ${W} ${H}`}
      style={{ position: 'absolute', left: 0, top: 0, display: 'block' }} />
  )
}
